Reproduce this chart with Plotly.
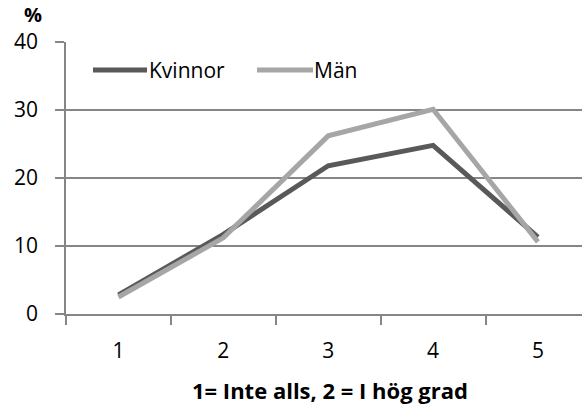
import plotly.graph_objects as go

categories = [1, 2, 3, 4, 5]
kvinnor = [2.8, 11.7, 21.8, 24.8, 11.3]
man = [2.5, 11.2, 26.2, 30.1, 10.6]
y_ticks = [0, 10, 20, 30, 40]
series_names = ["Kvinnor", "Män"]
series_colors = ["#595959", "#a6a6a6"]

FONT = "Open Sans"
W, H = 582, 406
L, R, T, B = 66, 0, 42, 92
PW, PH = W - L - R, H - T - B


def px_x(px):
    return (px - L) / PW


def px_y(py):
    return (H - B - py) / PH


fig = go.Figure()
for name, vals, col in zip(series_names, [kvinnor, man], series_colors):
    fig.add_trace(go.Scatter(x=categories, y=vals, mode="lines", name=name,
                             line=dict(color=col, width=5), showlegend=False,
                             hoverinfo="skip"))

fig.update_layout(
    width=W, height=H,
    margin=dict(l=L, r=R, t=T, b=B),
    paper_bgcolor="white", plot_bgcolor="white",
    font=dict(family=FONT, size=21, color="black"),
    xaxis=dict(range=[0.5, 5.42], tickmode="array", tickvals=categories,
               ticktext=[str(c) for c in categories],
               showgrid=False, zeroline=False, showline=True,
               linecolor="#868686", linewidth=1.5,
               ticks="", ticklabelstandoff=17,
               minor=dict(tickmode="array", tickvals=[0.5, 1.5, 2.5, 3.5, 4.5],
                          ticks="outside", ticklen=9, tickcolor="#868686", tickwidth=1.5),
               fixedrange=True),
    yaxis=dict(range=[0, 40], tickmode="array", tickvals=y_ticks,
               showgrid=True, gridcolor="#868686", gridwidth=1.5,
               zeroline=False, showline=True, linecolor="#868686", linewidth=1.5,
               ticks="outside", ticklen=9, tickcolor="#868686", tickwidth=1.5,
               ticklabelstandoff=13, fixedrange=True),
)

# manual legend (Excel-style long line samples)
legend_items = [(93, 147, 148), (257, 313, 313)]
for (x0, x1, tx), name, col in zip(legend_items, series_names, series_colors):
    fig.add_shape(type="line", xref="paper", yref="paper",
                  x0=px_x(x0), x1=px_x(x1), y0=px_y(70), y1=px_y(70),
                  line=dict(color=col, width=5))
    fig.add_annotation(text=name, xref="paper", yref="paper",
                       x=px_x(tx), y=px_y(70), xanchor="left", yanchor="middle",
                       showarrow=False, font=dict(size=21, family=FONT), borderpad=0)

fig.add_annotation(text="<b>%</b>", xref="paper", yref="paper",
                   x=px_x(33), y=px_y(0), xanchor="center", yanchor="top",
                   showarrow=False, font=dict(size=20, family=FONT), borderpad=0)
fig.add_annotation(text="<b>1= Inte alls, 2 = I hög grad</b>", xref="paper", yref="paper",
                   x=px_x(330), y=px_y(390), xanchor="center", yanchor="middle",
                   showarrow=False, font=dict(size=22, family=FONT))

fig.write_html("out.html", config={"displayModeBar": False},
               post_script="document.body.style.margin='0';")
